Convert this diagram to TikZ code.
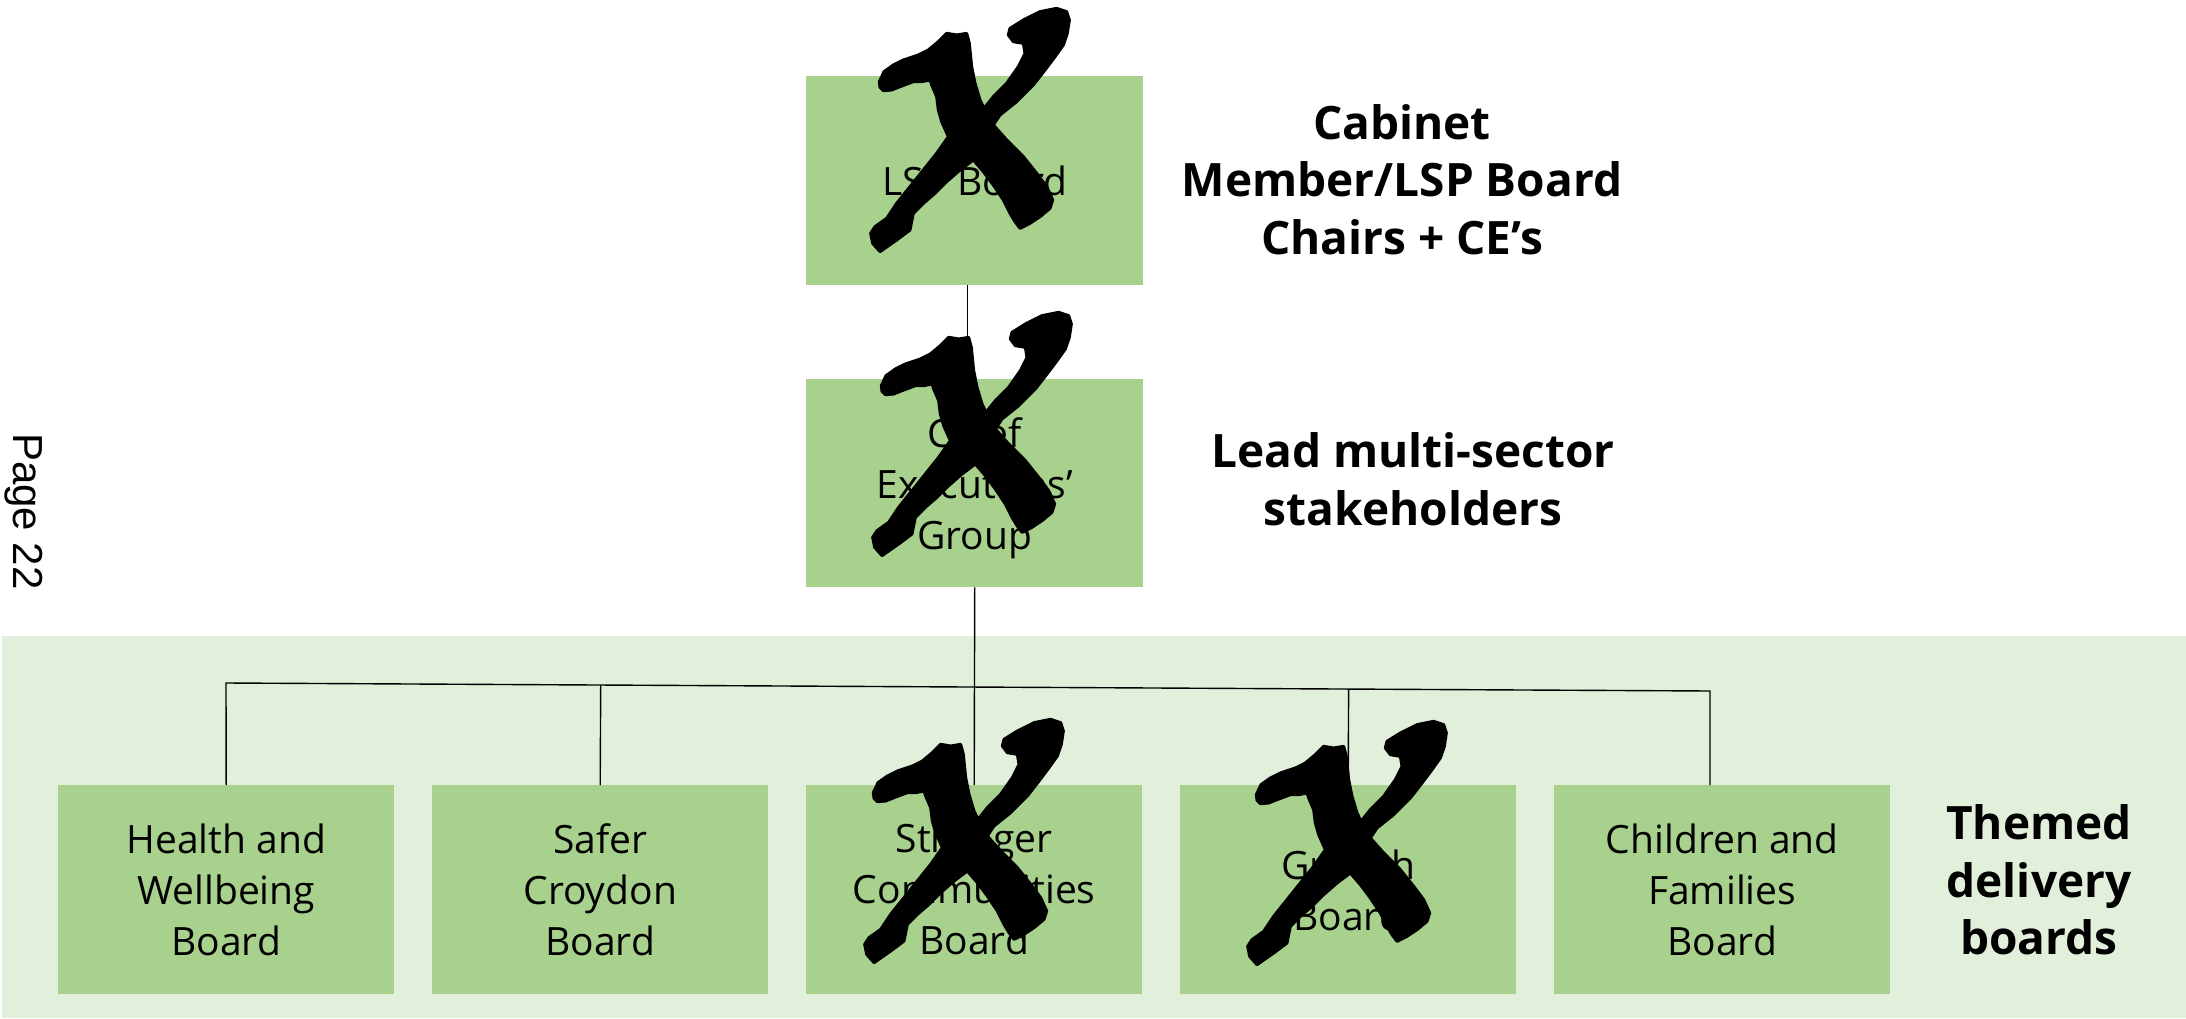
\documentclass[tikz,border=0pt]{standalone}
\usepackage{fontspec}
\setmainfont{Open Sans}
\newfontfamily\pagefont{Liberation Sans}
\usetikzlibrary{calc}
\definecolor{boxgreen}{HTML}{A9D18E}
\definecolor{bandgreen}{HTML}{E2EFDA}
\tikzset{
  box/.style={fill=boxgreen, draw=none, minimum width=336pt, minimum height=209pt,
    inner sep=0pt, align=center, font=\fontsize{39}{51}\selectfont, text depth=0pt, anchor=north west},
  lab/.style={align=center, font=\bfseries\fontsize{46}{57.5}\selectfont, text depth=0pt, inner sep=0pt},
  conn/.style={draw=black, line width=1.4pt},
  xmark/.pic={
    \filldraw[black, line width=3pt, line join=round] (58,245) -- (72,215) -- (100,195) -- (130,180) -- (175,165) -- (205,150)
      -- (235,125) -- (260,100) -- (290,105) -- (320,100) -- (328,130) -- (335,200)
      -- (345,250) -- (360,300) -- (372,325) -- (400,290) -- (440,250) -- (475,200)
      -- (495,160) -- (490,130) -- (460,125) -- (445,105) -- (450,85) -- (490,60)
      -- (540,35) -- (590,25) -- (620,35) -- (628,60) -- (622,100) -- (610,135)
      -- (585,170) -- (555,210) -- (520,255) -- (470,305) -- (420,345) -- (400,375)
      -- (440,420) -- (490,470) -- (530,520) -- (560,560) -- (578,600) -- (570,625)
      -- (540,650) -- (510,670) -- (480,685) -- (465,665) -- (450,640) -- (430,600)
      -- (400,555) -- (370,515) -- (340,480) -- (300,510) -- (260,545) -- (225,580)
      -- (190,610) -- (160,640) -- (150,690) -- (110,720) -- (60,755) -- (38,730)
      -- (32,700) -- (45,680) -- (80,655) -- (110,610) -- (150,560) -- (190,510)
      -- (230,460) -- (265,410) -- (245,365) -- (235,330) -- (230,290) -- (215,255)
      -- (210,240) -- (185,245) -- (160,245) -- (120,260) -- (95,270) -- (70,272)
      -- (60,262) -- cycle;
  }
}
\begin{document}
\begin{tikzpicture}[x=1pt,y=-1pt]
\useasboundingbox (0,0) rectangle (2186,1019);
\fill[bandgreen] (2,636) rectangle (2186,1018);

% boxes
\node[box, minimum width=337pt] (lsp) at (806,76) {LSP Board};
\node[box, minimum width=337pt, minimum height=208pt] (ceg) at (806,379) {Chief\\Executives’\\Group};
\node[box] (health) at (58,785) {Health and\\Wellbeing\\Board};
\node[box] (safer) at (432,785) {Safer\\Croydon\\Board};
\node[box] (strong) at (806,785) {Stronger\\Communities\\Board};
\node[box] (growth) at (1180,785) {Growth\\Board};
\node[box] (children) at (1554,785) {Children and\\Families\\Board};

% connectors
\coordinate (busL) at (226,683);
\coordinate (busR) at (1710,691);
\draw[conn] ([xshift=-7pt]lsp.south) -- ([xshift=-7pt]ceg.north);
\draw[conn] (ceg.south) -- (strong.north);
\draw[conn] (health.north) -- (busL) -- (busR) -- (busR |- children.north);
\draw[conn] (safer.north) -- ($(busL)!(safer.north)!(busR)$);
\draw[conn] (growth.north) -- ($(busL)!(growth.north)!(busR)$);

% labels
\node[lab] (cab) at (1402,179.5) {Cabinet\\Member/LSP Board\\Chairs + CE’s};
\node[lab] (lead) at (1413,479) {Lead multi-sector\\stakeholders};
\node[lab] (themed) at (2039,880) {Themed\\delivery\\boards};
\node[font=\pagefont\fontsize{42}{50}\selectfont, rotate=-90, anchor=base west, inner sep=0pt] (page) at (13,433) {Page 22};

% crossing marks
\path pic[shift={(860,0)}, scale=0.33333] {xmark};
\path pic[shift={(862,304)}, scale=0.33333] {xmark};
\path pic[shift={(854,711)}, scale=0.33333] {xmark};
\path pic[shift={(1237,713)}, scale=0.33333] {xmark};
\end{tikzpicture}
\end{document}
